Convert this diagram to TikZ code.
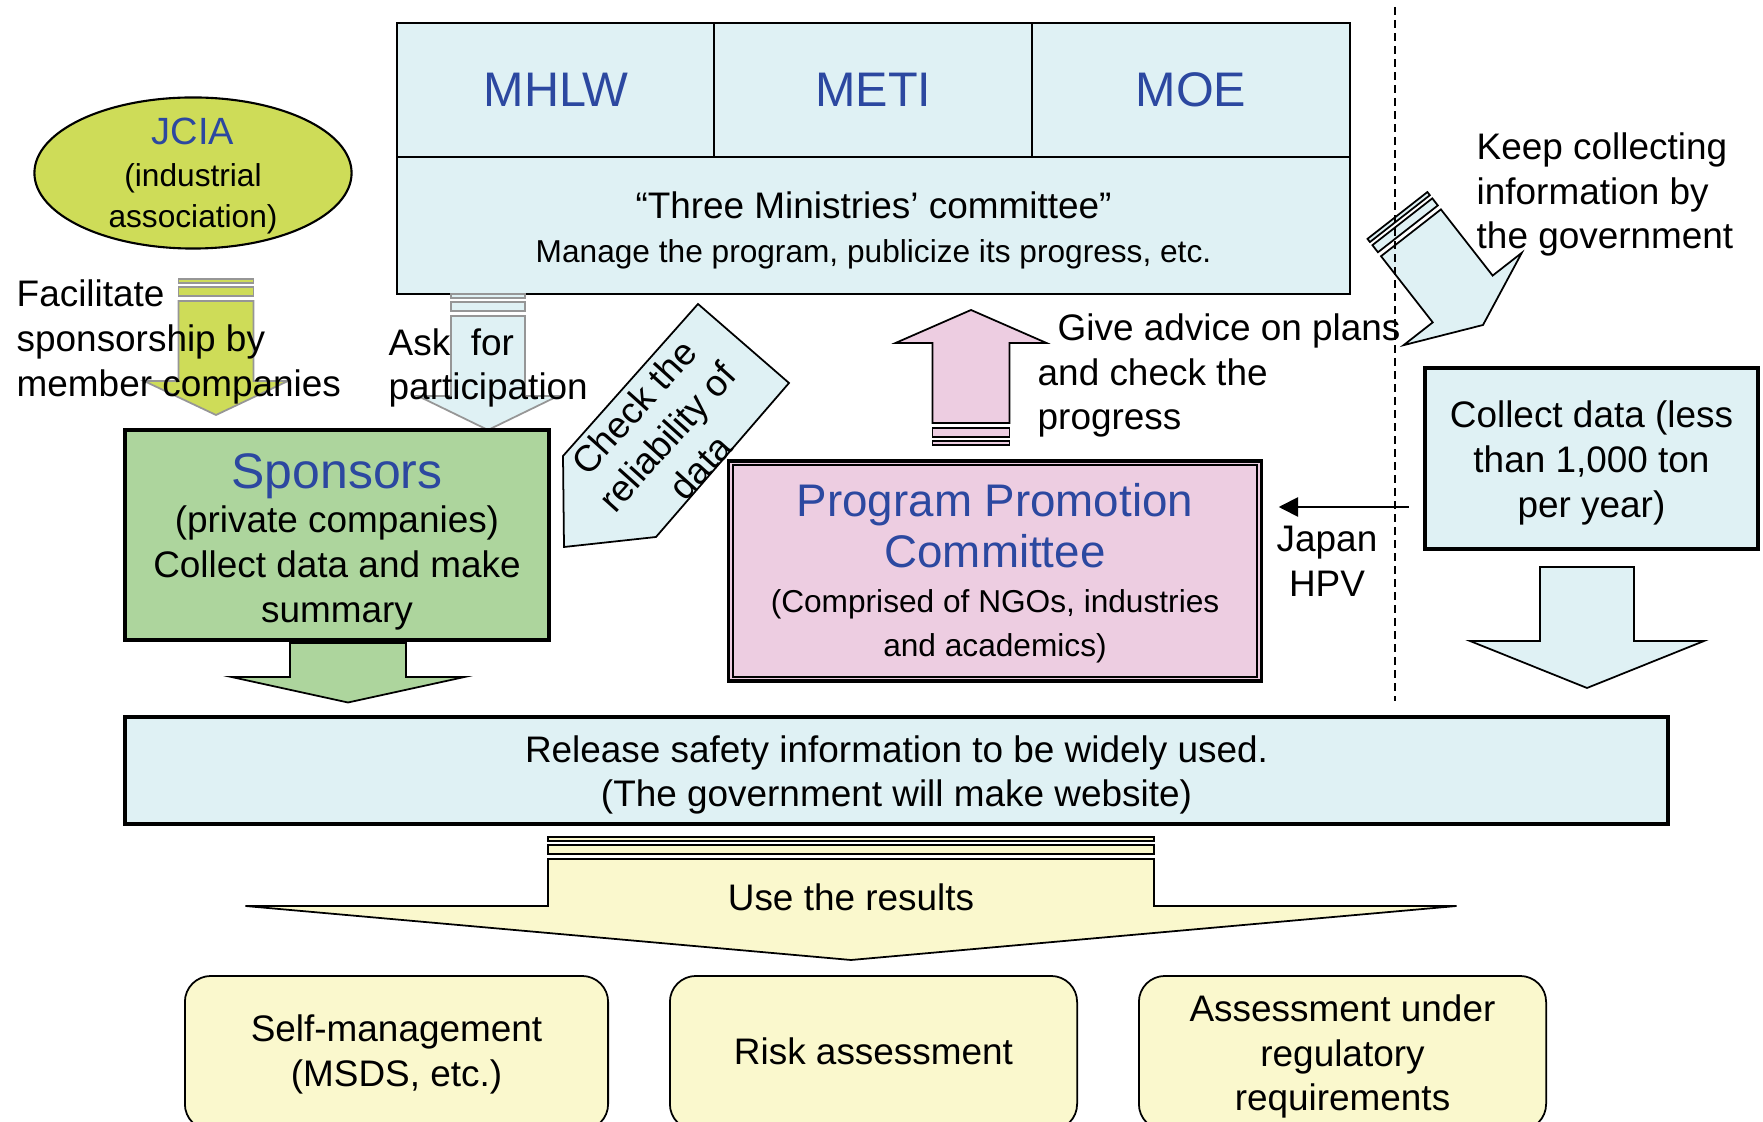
\documentclass[tikz,border=0pt]{standalone}
\usepackage{fontspec}
\setmainfont{Liberation Sans}
\usetikzlibrary{arrows.meta,shapes.geometric}

\definecolor{boxblue}{RGB}{223,241,244}
\definecolor{boxgreen}{RGB}{173,213,157}
\definecolor{jciayellow}{RGB}{206,220,88}
\definecolor{boxpink}{RGB}{237,205,225}
\definecolor{boxyellow}{RGB}{250,248,205}
\definecolor{titleblue}{RGB}{44,72,160}
\definecolor{edgegray}{RGB}{150,150,150}

% tip at the origin, tail up the page
\newcommand{\blockarrow}[5][]{%
  \draw[#1] (0,0) -- (-#3,-#4) -- (-#2,-#4) -- (-#2,-#4-#5) -- (#2,-#4-#5) -- (#2,-#4) -- (#3,-#4) -- cycle;}
\newcommand{\arrowstripes}[3][]{%
  \draw[#1] (-#2,-#3-5) rectangle (#2,-#3-14);
  \draw[#1] (-#2,-#3-18) rectangle (#2,-#3-22);}

\begin{document}
\begin{tikzpicture}[x=0.01cm, y=-0.01cm,
    labeltext/.style={font=\fontsize{10.5}{12.7}\selectfont, inner sep=0pt, align=center},
    headtext/.style={font=\fontsize{13.8}{16}\selectfont, text=titleblue, inner sep=0pt},
    ministrycell/.style={draw, line width=0.6pt, fill=boxblue, minimum width=3.18cm, minimum height=1.345cm},
    thickbox/.style={draw, line width=1.15pt},
    usebox/.style={draw, line width=0.5pt, fill=boxyellow, rounded corners=0.26cm, minimum height=1.54cm},
    facilarrow/.style={draw=edgegray, fill=jciayellow, line width=0.5pt},
    askarrow/.style={draw=edgegray, fill=boxblue, line width=0.5pt},
    pinkarrow/.style={draw=black, fill=boxpink, line width=0.5pt},
    greenarrow/.style={draw=black, fill=boxgreen, line width=0.5pt},
    bluearrow/.style={draw=black, fill=boxblue, line width=0.5pt},
    yellowarrow/.style={draw=black, fill=boxyellow, line width=0.5pt}]

    \useasboundingbox (0,0) rectangle (1763,1122);

    \node[ministrycell, headtext] (mhlw) at (556,90)   {MHLW};
    \node[ministrycell, headtext] (meti) at (873.5,90) {METI};
    \node[ministrycell, headtext] (moe)  at (1191,90)  {MOE};
    \node[draw, line width=0.6pt, fill=boxblue, minimum width=9.53cm, minimum height=1.365cm] (committee) at (873.5,225.5) {};
    \node[labeltext, font=\fontsize{10.5}{12.5}\selectfont] (committeetext) at (873.5,230)
        {“Three Ministries’ committee”\\{\fontsize{9}{12.5}\selectfont Manage the program, publicize its progress, etc.}};

    \node[draw, ellipse, line width=0.6pt, fill=jciayellow, minimum width=3.17cm, minimum height=1.51cm] (jcia) at (193,173) {};
    \node[inner sep=0pt, align=center, font=\fontsize{9}{11.8}\selectfont] (jciatext) at (193,176.5)
        {{\fontsize{10.8}{11.8}\selectfont\color{titleblue}JCIA}\\(industrial\\association)};

    \begin{scope}[shift={(216,415)}]
        \blockarrow[facilarrow]{37.5}{72}{34}{80}
        \arrowstripes[facilarrow]{37.5}{114}
    \end{scope}
    \node[labeltext, anchor=west, align=left] (facilitate) at (16,342) {Facilitate\\sponsorship by\\member companies};

    \begin{scope}[shift={(488,430)}]
        \blockarrow[askarrow]{37}{70}{34}{80}
        \arrowstripes[askarrow]{37}{114}
    \end{scope}
    \node[labeltext, anchor=west, align=left] (ask) at (388,368) {Ask\ \ for\\participation};

    \node[thickbox, fill=boxgreen, minimum width=4.24cm, minimum height=2.1cm] (sponsors) at (337,535) {};
    \node[labeltext] (sponsorstext) at (337,541.5)
        {{\fontsize{14.2}{17}\selectfont\color{titleblue}Sponsors}\\(private companies)\\Collect data and make\\summary};

    \draw[bluearrow] (563,456) -- (698,304) -- (789,383) -- (656,537) -- (564,547) -- cycle;
    \node[labeltext, rotate=48] (check) at (667,437) {Check the\\reliability of\\data};

    \begin{scope}[shift={(971,310)}, rotate=180]
        \blockarrow[pinkarrow]{38.5}{75.5}{33}{80}
        \arrowstripes[pinkarrow]{38.5}{113}
    \end{scope}
    \node[labeltext, anchor=west] (advice) at (1057,331) {Give advice on plans};
    \node[labeltext, anchor=west, align=left] (progress) at (1037,398) {and check the\\progress};

    \node[thickbox, line width=0.9pt, fill=boxpink, minimum width=5.32cm, minimum height=2.2cm] (program) at (995,571) {};
    \draw[line width=0.6pt] ([shift={(6,6)}]program.north west) rectangle ([shift={(-6,-6)}]program.south east);
    \node[labeltext] (programtext) at (995,573.5)
        {{\fontsize{13}{14.5}\selectfont\color{titleblue}Program Promotion}\\[1.8pt]{\fontsize{13}{14.5}\selectfont\color{titleblue}Committee}\\{\fontsize{9}{12.8}\selectfont (Comprised of NGOs, industries}\\{\fontsize{9}{12.8}\selectfont and academics)}};

    \begin{scope}[shift={(1483,325)}, rotate=38]
        \blockarrow[bluearrow]{38}{75}{33}{84}
        \arrowstripes[bluearrow]{38}{117}
    \end{scope}
    \draw[line width=0.45pt, dash pattern=on 0.08cm off 0.05cm] (1395,7) -- (1395,701);
    \node[labeltext, anchor=west, align=left] (keep) at (1476,194.5) {Keep collecting\\information by\\the government};

    \node[thickbox, line width=1.1pt, fill=boxblue, minimum width=3.33cm, minimum height=1.81cm] (collect) at (1591.5,458.5) {};
    \node[labeltext] (collecttext) at (1591.5,463) {Collect data (less\\than 1,000 ton\\per year)};
    \coordinate (hpv) at (0,507);
    \draw[-{Triangle[length=5.5pt,width=5.5pt]}, line width=0.5pt, shorten <=0.14cm, shorten >=0.16cm] (collect.west |- hpv) -- (program.east |- hpv);
    \node[labeltext] (japanhpv) at (1327,561) {Japan\\HPV};

    \begin{scope}[shift={(1587,688)}]
        \blockarrow[bluearrow]{47}{117}{47}{74}
    \end{scope}
    \begin{scope}[shift={(348,702.5)}]
        \blockarrow[greenarrow]{58}{116.5}{25.5}{34}
    \end{scope}

    \node[thickbox, fill=boxblue, minimum width=15.43cm, minimum height=1.07cm] (release) at (896.5,770.5) {};
    \node[labeltext] (releasetext) at (896.5,775) {Release safety information to be widely used.\\(The government will make website)};

    \begin{scope}[shift={(851,960)}]
        \blockarrow[yellowarrow]{303}{605.5}{54}{47}
        \arrowstripes[yellowarrow]{303}{101}
    \end{scope}
    \node[labeltext] (results) at (851,897) {Use the results};

    \node[usebox, minimum width=4.23cm] (selfmgmt)   at (396.5,1053)  {};
    \node[usebox, minimum width=4.07cm] (riskassess) at (873.5,1053)  {};
    \node[usebox, minimum width=4.07cm] (regassess)  at (1342.5,1053) {};
    \node[labeltext] (selfmgmttext)   at (396.5,1054.5)  {Self-management\\(MSDS, etc.)};
    \node[labeltext] (riskassesstext) at (873.5,1051)    {Risk assessment};
    \node[labeltext] (regassesstext)  at (1342.5,1056.5) {Assessment under\\regulatory\\requirements};

\end{tikzpicture}
\end{document}
